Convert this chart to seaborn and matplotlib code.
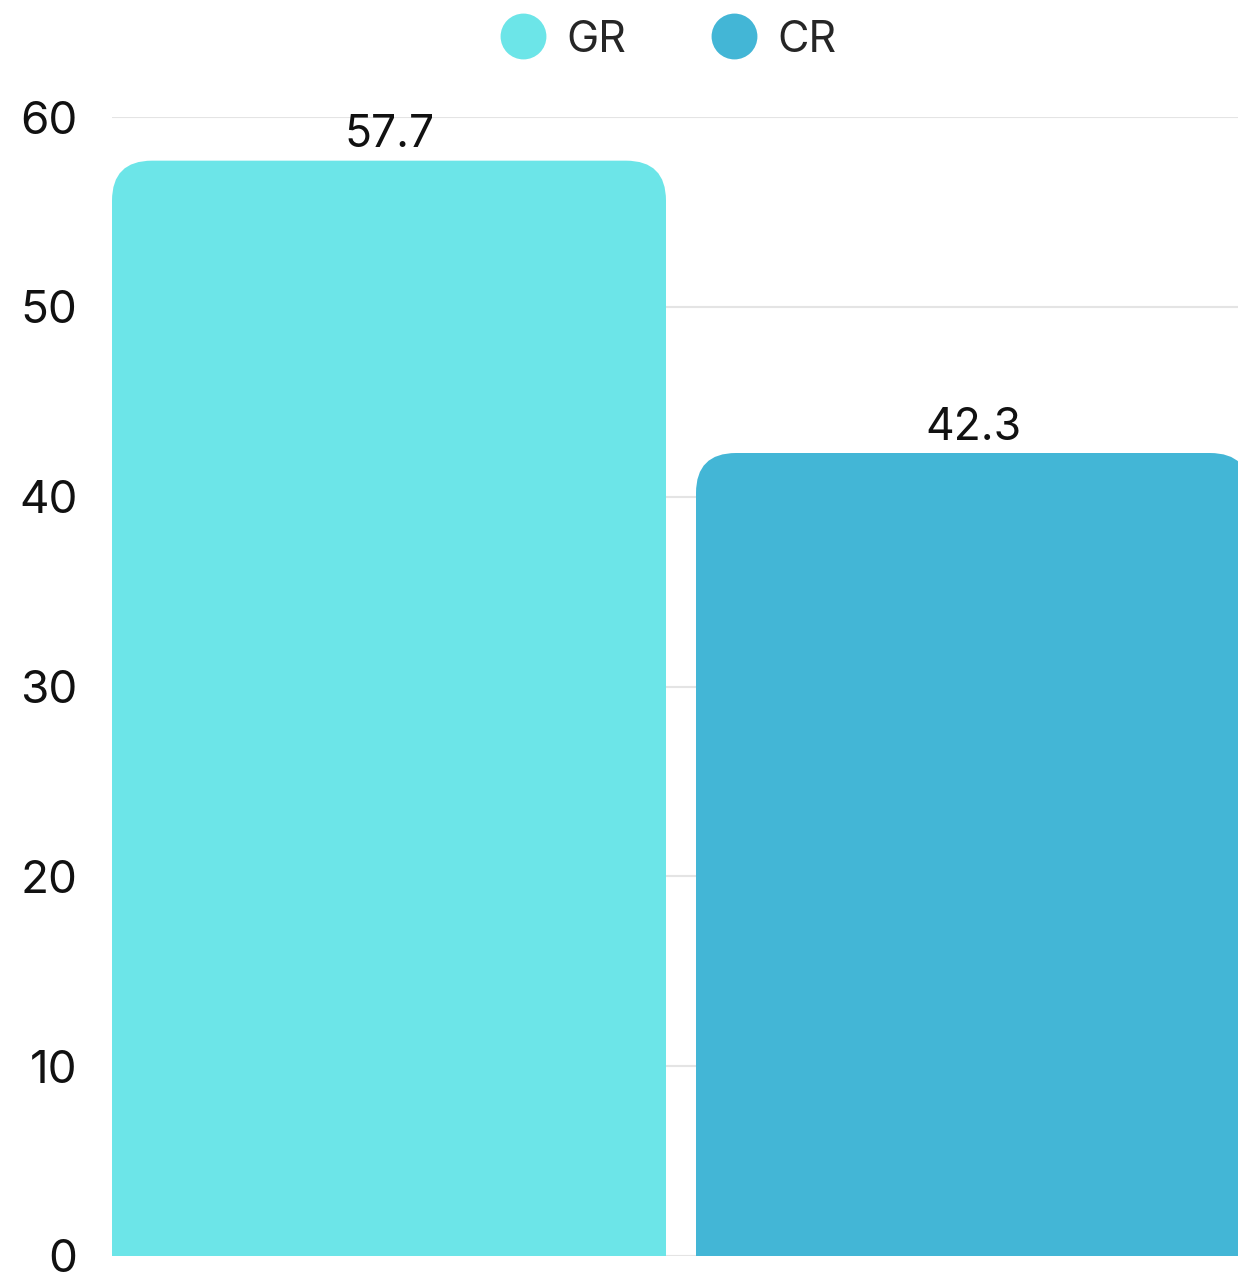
import matplotlib
matplotlib.use("Agg")
import matplotlib.pyplot as plt
import seaborn as sns
from matplotlib.patches import FancyBboxPatch
from matplotlib.lines import Line2D

# data
categories = ["GR", "CR"]
values = [57.7, 42.3]
colors = ["#6ce5e8", "#43b6d6"]
y_ticks = [0, 10, 20, 30, 40, 50, 60]

sns.set_style("white")
plt.rcParams['font.family'] = ['Inter', 'DejaVu Sans']

W, H = 1238, 1276
fig = plt.figure(figsize=(W / 100, H / 100), dpi=100)
ax = fig.add_axes([112 / W, 20 / H, 1126 / W, 1139 / H])

bar_w = 554 / 584
sns.barplot(x=categories, y=values, hue=categories, palette=colors,
            saturation=1, width=bar_w, legend=False, ax=ax, zorder=3)

ax.set_ylim(0, 60)
ax.set_xlim(-bar_w / 2, -bar_w / 2 + 1126 / 584)
ax.set_yticks(y_ticks)
ax.set_xticks([])
ax.grid(axis="y", color="#e4e4e4", linewidth=1.5, zorder=0)
ax.set_axisbelow(True)
for s in ax.spines.values():
    s.set_visible(False)
ax.tick_params(axis="y", length=0, pad=25, labelsize=33, labelcolor="#111111")

# value labels
for cont in ax.containers:
    ax.bar_label(cont, fmt="%.1f", padding=3, fontsize=32, color="#111111")

# rounded tops
px_x = 1126 / (ax.get_xlim()[1] - ax.get_xlim()[0])
px_y = 1139 / 60
radius = 40
r = radius / px_x
ry = radius / px_y
for p in list(ax.patches):
    x, w, h = p.get_x(), p.get_width(), p.get_height()
    fc = p.get_facecolor()
    p.remove()
    ax.add_patch(FancyBboxPatch((x, -ry), w, h + ry,
                                boxstyle=f"round,pad=0,rounding_size={r}",
                                mutation_aspect=px_x / px_y,
                                facecolor=fc, edgecolor="none", zorder=3))

handles = [Line2D([], [], marker="o", linestyle="none", markersize=33,
                  markerfacecolor=c, markeredgecolor="none") for c in colors]
fig.legend(handles, categories, loc="center", bbox_to_anchor=(669 / W, 1 - 40 / H),
           ncol=2, frameon=False, fontsize=31, handlelength=1.0,
           handletextpad=0.5, columnspacing=2.0)

fig.savefig("out.png", dpi=100)
